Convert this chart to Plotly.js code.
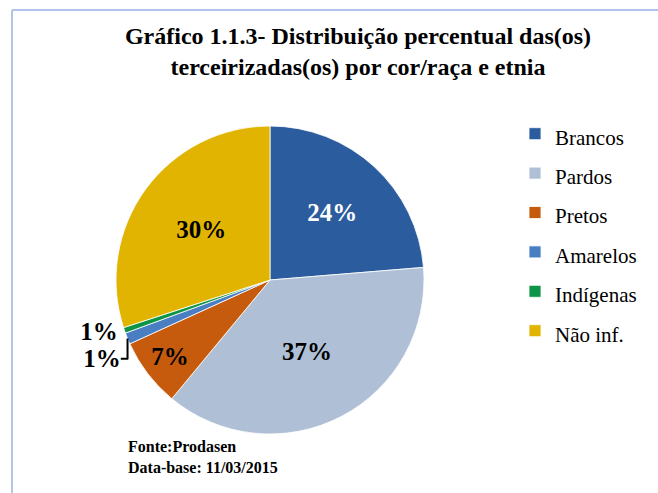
<!DOCTYPE html>
<html>
<head>
<meta charset="utf-8">
<script src="https://cdn.plot.ly/plotly-3.0.1.min.js"></script>
<style>
html,body{margin:0;padding:0;background:#fff;}
#chart{width:658px;height:493px;}
</style>
</head>
<body>
<div id="chart"></div>
<script>
var categories = ["Brancos", "Pardos", "Pretos", "Amarelos", "Indígenas", "Não inf."];
var values = [23.7, 37.3, 7.2, 1.2, 0.6, 30.0];
var sliceColors = ["#2B5C9E", "#AFC0D6", "#C65B0E", "#4A7EC2", "#0E9446", "#E0B400"];
var labelColors = ["#FFFFFF", "#000000", "#000000", "#000000", "#000000", "#000000"];
var labelPositions = ["inside", "inside", "inside", "outside", "outside", "inside"];
var titleText = "Gráfico 1.1.3- Distribuição percentual das(os)<br>terceirizadas(os) por cor/raça e etnia";
var sourceText = "Fonte:Prodasen<br>Data-base: 11/03/2015";

var W = 658, H = 493;
var serif = "Liberation Serif, Times New Roman, serif";

var trace = {
  type: "pie",
  labels: categories.map(function (c) {
    return '<span style="font-size:21px;font-family:Liberation Serif,serif">' + c + '</span>';
  }),
  values: values,
  sort: false,
  direction: "clockwise",
  rotation: 0,
  marker: { colors: sliceColors, line: { color: "#FFFFFF", width: 0.8 } },
  texttemplate: "%{percent:.0%}",
  textposition: labelPositions,
  insidetextorientation: "horizontal",
  textfont: { family: serif, size: 25, color: labelColors, weight: "bold" },
  outsidetextfont: { family: serif, size: 25, color: "#000000", weight: "bold" },
  hoverinfo: "label+percent",
  domain: { x: [116 / W, 424 / W], y: [(H - 434) / H, (H - 126) / H] }
};

var layout = {
  width: W,
  height: H,
  margin: { l: 0, r: 0, t: 0, b: 0 },
  paper_bgcolor: "#FFFFFF",
  showlegend: true,
  font: { family: serif, color: "#000000" },
  title: {
    text: titleText,
    font: { family: serif, size: 24, color: "#000000", weight: "bold" },
    xref: "container", yref: "container",
    x: 358 / W, xanchor: "center",
    y: 1 - 44 / H, yanchor: "top"
  },
  legend: {
    x: 515 / W, xanchor: "left",
    y: 1 - 109 / H, yanchor: "top",
    font: { family: serif, size: 28, color: "#000000" },
    bgcolor: "rgba(0,0,0,0)"
  },
  annotations: [{
    text: "<b>" + sourceText + "</b>",
    xref: "paper", yref: "paper",
    x: 126 / W, xanchor: "left",
    y: 1 - 436 / H, yanchor: "top",
    align: "left",
    showarrow: false,
    font: { family: serif, size: 16, color: "#000000" }
  }],
  shapes: [
    { type: "line", xref: "paper", yref: "paper", x0: 12 / W, x1: 1, y0: 1 - 10 / H, y1: 1 - 10 / H,
      line: { color: "#B3C4EA", width: 2 } },
    { type: "line", xref: "paper", yref: "paper", x0: 12 / W, x1: 12 / W, y0: 0, y1: 1 - 10 / H,
      line: { color: "#B3C4EA", width: 2 } }
  ]
};

Plotly.newPlot("chart", [trace], layout, { displayModeBar: false, staticPlot: true });
</script>
</body>
</html>
